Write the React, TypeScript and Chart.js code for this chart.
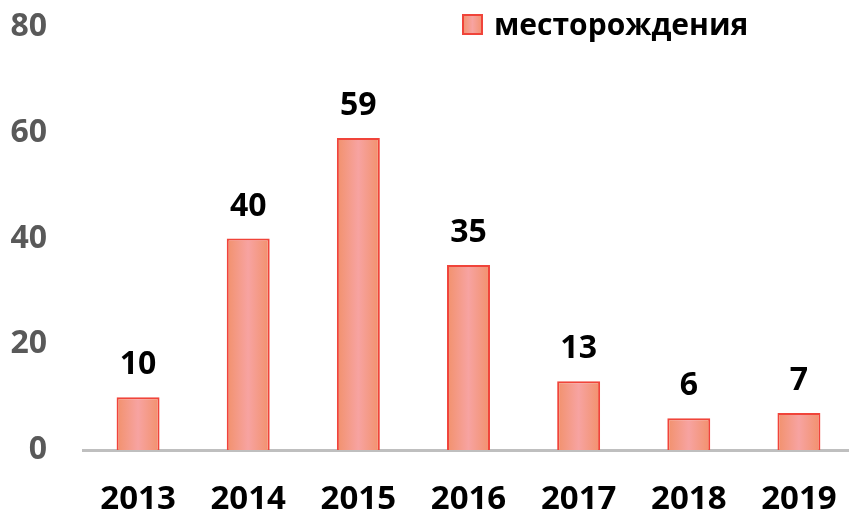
import React, { useEffect, useRef } from "react";
import { Chart, registerables } from "chart.js";

Chart.register(...registerables);

const categories = ["2013", "2014", "2015", "2016", "2017", "2018", "2019"];
const deposits = [10, 40, 59, 35, 13, 6, 7];
const seriesLabel = "месторождения";
const yTicks = [0, 20, 40, 60, 80];

const FONT = "'Open Sans', sans-serif";
const EDGE = "#F2916C";
const CENTER = "#F7A3A1";
const BORDER = "#F0443A";

function barGradient(ctx: CanvasRenderingContext2D, x0: number, x1: number) {
  const g = ctx.createLinearGradient(x0, 0, x1, 0);
  g.addColorStop(0, EDGE);
  g.addColorStop(0.5, CENTER);
  g.addColorStop(1, EDGE);
  return g;
}

const labelPlugin = {
  id: "valueLabels",
  afterDatasetsDraw(chart: any) {
    const ctx = chart.ctx;
    const meta = chart.getDatasetMeta(0);
    ctx.save();
    ctx.font = `bold 32px ${FONT}`;
    ctx.fillStyle = "#000000";
    ctx.textAlign = "center";
    ctx.textBaseline = "alphabetic";
    meta.data.forEach((bar: any, i: number) => {
      ctx.fillText(String(deposits[i]), bar.x, bar.y - 23);
    });
    ctx.restore();
  },
  afterDraw(chart: any) {
    const ctx = chart.ctx;
    const box = 21;
    const x = 462;
    const y = 14;
    ctx.save();
    ctx.fillStyle = barGradient(ctx, x, x + box);
    ctx.fillRect(x, y, box, box);
    ctx.strokeStyle = BORDER;
    ctx.lineWidth = 2;
    ctx.strokeRect(x + 1, y + 1, box - 2, box - 2);
    ctx.font = `bold 30px ${FONT}`;
    ctx.fillStyle = "#000000";
    ctx.textBaseline = "alphabetic";
    ctx.textAlign = "left";
    ctx.fillText(seriesLabel, x + 32, y + 21);
    ctx.restore();
  },
};

export default function App() {
  const ref = useRef<HTMLCanvasElement>(null);
  useEffect(() => {
    if (!ref.current) return;
    const chart = new Chart(ref.current, {
      type: "bar",
      data: {
        labels: categories,
        datasets: [
          {
            label: seriesLabel,
            data: deposits,
            backgroundColor: (c: any) => {
              const ch = c.chart;
              const xs = ch.scales && ch.scales.x;
              if (!xs || !ch.chartArea || c.dataIndex === undefined) return CENTER;
              const cx = xs.getPixelForValue(c.dataIndex);
              const w = (xs.width / categories.length) * 0.39;
              return barGradient(ch.ctx, cx - w / 2, cx + w / 2);
            },
            borderColor: BORDER,
            borderWidth: 2,
            categoryPercentage: 1,
            barPercentage: 0.39,
          },
        ],
      },
      options: {
        animation: false,
        responsive: false,
        maintainAspectRatio: false,
        layout: { padding: { top: 27, right: 2, left: 0, bottom: 0 } },
        plugins: { legend: { display: false }, tooltip: { enabled: false } },
        scales: {
          x: {
            grid: { display: false, drawTicks: false },
            border: { display: true, color: "#BFBFBF", width: 3 },
            ticks: {
              color: "#000000",
              font: { family: FONT, size: 33, weight: "bold" },
              padding: 30,
              maxRotation: 0,
            },
            afterFit: (s: any) => {
              s.height = 62;
              s.paddingLeft = 0;
              s.paddingRight = 0;
            },
          },
          y: {
            min: 0,
            max: 80,
            afterBuildTicks: (s: any) => {
              s.ticks = yTicks.map((v) => ({ value: v }));
            },
            grid: { display: false, drawTicks: false },
            border: { display: false },
            ticks: {
              color: "#595959",
              font: { family: FONT, size: 32, weight: "bold" },
              padding: 36,
            },
            afterFit: (s: any) => {
              s.width = 83;
              s.paddingTop = 0;
              s.paddingBottom = 0;
            },
          },
        },
      },
      plugins: [labelPlugin],
    } as any);
    return () => chart.destroy();
  }, []);
  return (
    <div style={{ position: "fixed", left: 0, top: 0, width: 849, height: 512, overflow: "hidden", background: "#fff" }}>
      <canvas ref={ref} width={856} height={512} style={{ display: "block" }} />
    </div>
  );
}
